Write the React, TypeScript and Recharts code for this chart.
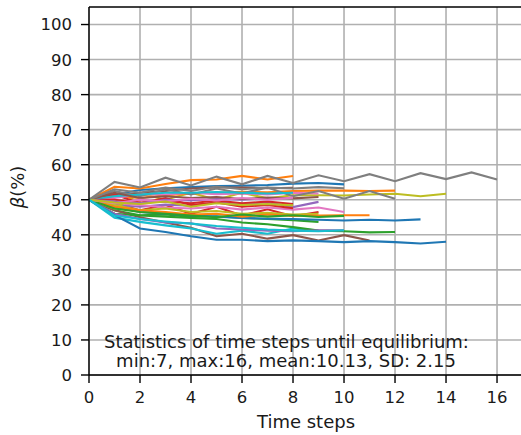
import React from "react";
import { LineChart, Line, XAxis, YAxis, CartesianGrid, ReferenceLine } from "recharts";

const timeSteps = [0, 1, 2, 3, 4, 5, 6, 7, 8, 9, 10, 11, 12, 13, 14, 15, 16];
const xTicks = [0, 2, 4, 6, 8, 10, 12, 14, 16];
const yTicks = [0, 10, 20, 30, 40, 50, 60, 70, 80, 90, 100];
const palette = ["#1f77b4", "#ff7f0e", "#2ca02c", "#d62728", "#9467bd", "#8c564b", "#e377c2", "#7f7f7f", "#bcbd22", "#17becf"];

const run00 = [50, 51.5, 52.8, 53.3, 53.6, 53.9, 54, 54.2, 54.6, 54.8, 54.4];
const run01 = [50, 53.7, 53.2, 54.5, 55.6, 55.8, 56.8, 55.8, 56.8];
const run02 = [50, 47, 45.6, 45.8, 45.1, 45.3, 44.8, 44.5, 44.2, 43.7];
const run03 = [50, 49, 47, 48.5, 46, 48, 45.5, 47.3, 45.3, 46.5];
const run04 = [50, 48.5, 48, 48.6, 48.3, 49.2, 48.8, 49.3, 47.9, 49.4];
const run05 = [50, 47, 45, 43.5, 42, 39.6, 40.3, 38.9, 39.9, 38.4, 39.9, 38.4];
const run06 = [50, 49, 48.5, 47.8, 47.5, 48, 47.2, 47.8, 47.2, 47.8, 46.5];
const run07 = [50, 55.1, 53.5, 56.3, 54.1, 56.6, 54.4, 56.8, 54.8, 57, 55.3, 57.3, 55.3, 57.6, 55.9, 57.8, 55.8];
const run08 = [50, 47.5, 51.8, 50, 52, 50, 52, 50.4, 51.3, 51.3, 51.2, 51.5, 51.7, 51, 51.7];
const run09 = [50, 44.9, 43.7, 42.7, 41.8, 40.3, 41.2, 40.3, 41.8, 41.2];
const run10 = [50, 48, 46.5, 46, 45.5, 45.2, 44.8, 44.6, 44.5, 44.3, 44.1, 44.3, 44.1, 44.4];
const run11 = [50, 51, 50.5, 51.3, 51.8, 52, 52.3, 52.1, 52.5, 52.6, 52.6, 52.5, 52.6];
const run12 = [50, 46, 45.5, 45.2, 44.8, 44.5, 43.5, 43, 42.2, 41.2, 41, 40.7, 40.8];
const run13 = [50, 51.5, 49, 50.5, 48.5, 49.2, 48, 48.5, 47.6];
const run14 = [50, 46, 44.5, 43.5, 43.3, 41.8, 41.5, 41.2, 41, 41.3, 41.3];
const run15 = [50, 51, 52, 52.5, 53.2, 53.5, 53.5, 53.3, 53.4];
const run16 = [50, 50.5, 51.5, 51.5, 52, 51.6, 51.8, 51.5, 52, 51.8];
const run17 = [50, 52.5, 51, 53, 51.5, 53.2, 51.8, 53.5, 51, 52.5, 50.3, 52.5, 50.3];
const run18 = [50, 48.5, 47, 47.5, 46.5, 46.8, 46, 46.3, 45.8, 46];
const run19 = [50, 51, 51.5, 52, 52, 52.2, 52, 51.8, 52];
const run20 = [50, 45.6, 41.8, 40.8, 39.6, 38.6, 38.6, 38.2, 38.4, 38.2, 37.9, 38.2, 37.9, 37.5, 38];
const run21 = [50, 48, 47, 46.5, 45.8, 46, 45.2, 45.8, 45.4, 45.5, 45.6, 45.6];
const run22 = [50, 47.5, 46.5, 46, 45.5, 45, 45.8, 45.2, 45.6, 45.1, 45.4];
const run23 = [50, 50, 49.2, 49.5, 49, 49.8, 49, 49.5, 48.8];
const run24 = [50, 49.5, 49, 50, 49.8, 50.2, 50, 50.4];
const run25 = [50, 52, 50.5, 51, 50.5, 50.8, 50.2, 50.6, 50.4, 50.8];
const run26 = [50, 49, 50, 49.5, 50.3, 49.8, 50.5, 50, 50.6];
const run27 = [50, 53, 52, 53.5, 52.5, 53.8, 53, 53.5, 53.2, 53.6, 53.3];
const run28 = [50, 49.2, 48.8, 49.5, 48, 49, 48.5, 48.8, 48.4];
const run29 = [50, 45.5, 44.5, 43.8, 43.2, 42.5, 42, 41.5, 41.2, 41, 41.3];

const runs = [run00, run01, run02, run03, run04, run05, run06, run07, run08, run09,
  run10, run11, run12, run13, run14, run15, run16, run17, run18, run19,
  run20, run21, run22, run23, run24, run25, run26, run27, run28, run29];

const data = timeSteps.map((t) => {
  const row: Record<string, number> = { t };
  runs.forEach((r, i) => {
    if (t < r.length) row["s" + i] = r[t];
  });
  return row;
});

const FONT = "'DejaVu Sans', sans-serif";

const XTick = (props: any) => (
  <text x={props.x} y={props.y} dy="0.73em" textAnchor="middle" fontFamily={FONT} fontSize={16.5} fill="#1a1a1a">
    {props.payload.value}
  </text>
);
const YTick = (props: any) => (
  <text x={props.x} y={props.y} dy="0.36em" textAnchor="end" fontFamily={FONT} fontSize={16.5} fill="#1a1a1a">
    {props.payload.value}
  </text>
);

export default function App() {
  return (
    <div style={{ position: "absolute", left: 0, top: 0, width: 521, height: 435, background: "#fff" }}>
      <LineChart width={521} height={435} data={data} margin={{ top: 7, right: 0, left: 0, bottom: 0 }}>
        <CartesianGrid stroke="#b0b0b0" strokeWidth={1.6} verticalValues={xTicks} horizontalValues={yTicks} />
        <XAxis
          dataKey="t"
          type="number"
          domain={[0, 16.94]}
          ticks={xTicks}
          allowDataOverflow
          height={60}
          tickSize={8}
          tickMargin={8}
          tick={XTick}
          axisLine={{ stroke: "#000", strokeWidth: 1.4 }}
          tickLine={{ stroke: "#000", strokeWidth: 1.4 }}
        />
        <YAxis
          type="number"
          domain={[0, 105]}
          ticks={yTicks}
          allowDataOverflow
          width={89}
          tickSize={8}
          tickMargin={9}
          tick={YTick}
          axisLine={{ stroke: "#000", strokeWidth: 1.4 }}
          tickLine={{ stroke: "#000", strokeWidth: 1.4 }}
        />
        {runs.map((_, i) => (
          <Line
            key={i}
            dataKey={"s" + i}
            type="linear"
            stroke={palette[i % 10]}
            strokeWidth={2.1}
            dot={false}
            activeDot={false}
            isAnimationActive={false}
            connectNulls={false}
          />
        ))}
        <ReferenceLine y={105} stroke="#000" strokeWidth={1.4} ifOverflow="visible" />
      </LineChart>
      <svg width={521} height={435} style={{ position: "absolute", left: 0, top: 0, pointerEvents: "none" }}>
        <text
          x={17}
          y={187}
          transform="rotate(-90 17 187)"
          textAnchor="middle"
          dominantBaseline="central"
          fontFamily={FONT}
          fontSize={18}
          fill="#1a1a1a"
        >
          <tspan fontStyle="italic">β</tspan>
          <tspan>(%)</tspan>
        </text>
        <text x={306} y={427.5} textAnchor="middle" fontFamily={FONT} fontSize={18} fill="#1a1a1a">
          Time steps
        </text>
        <text x={286.5} y={347.7} textAnchor="middle" fontFamily={FONT} fontSize={18} fill="#1a1a1a">
          Statistics of time steps until equilibrium:
        </text>
        <text x={286} y={367.2} textAnchor="middle" fontFamily={FONT} fontSize={18} fill="#1a1a1a">
          min:7, max:16, mean:10.13, SD: 2.15
        </text>
      </svg>
    </div>
  );
}
